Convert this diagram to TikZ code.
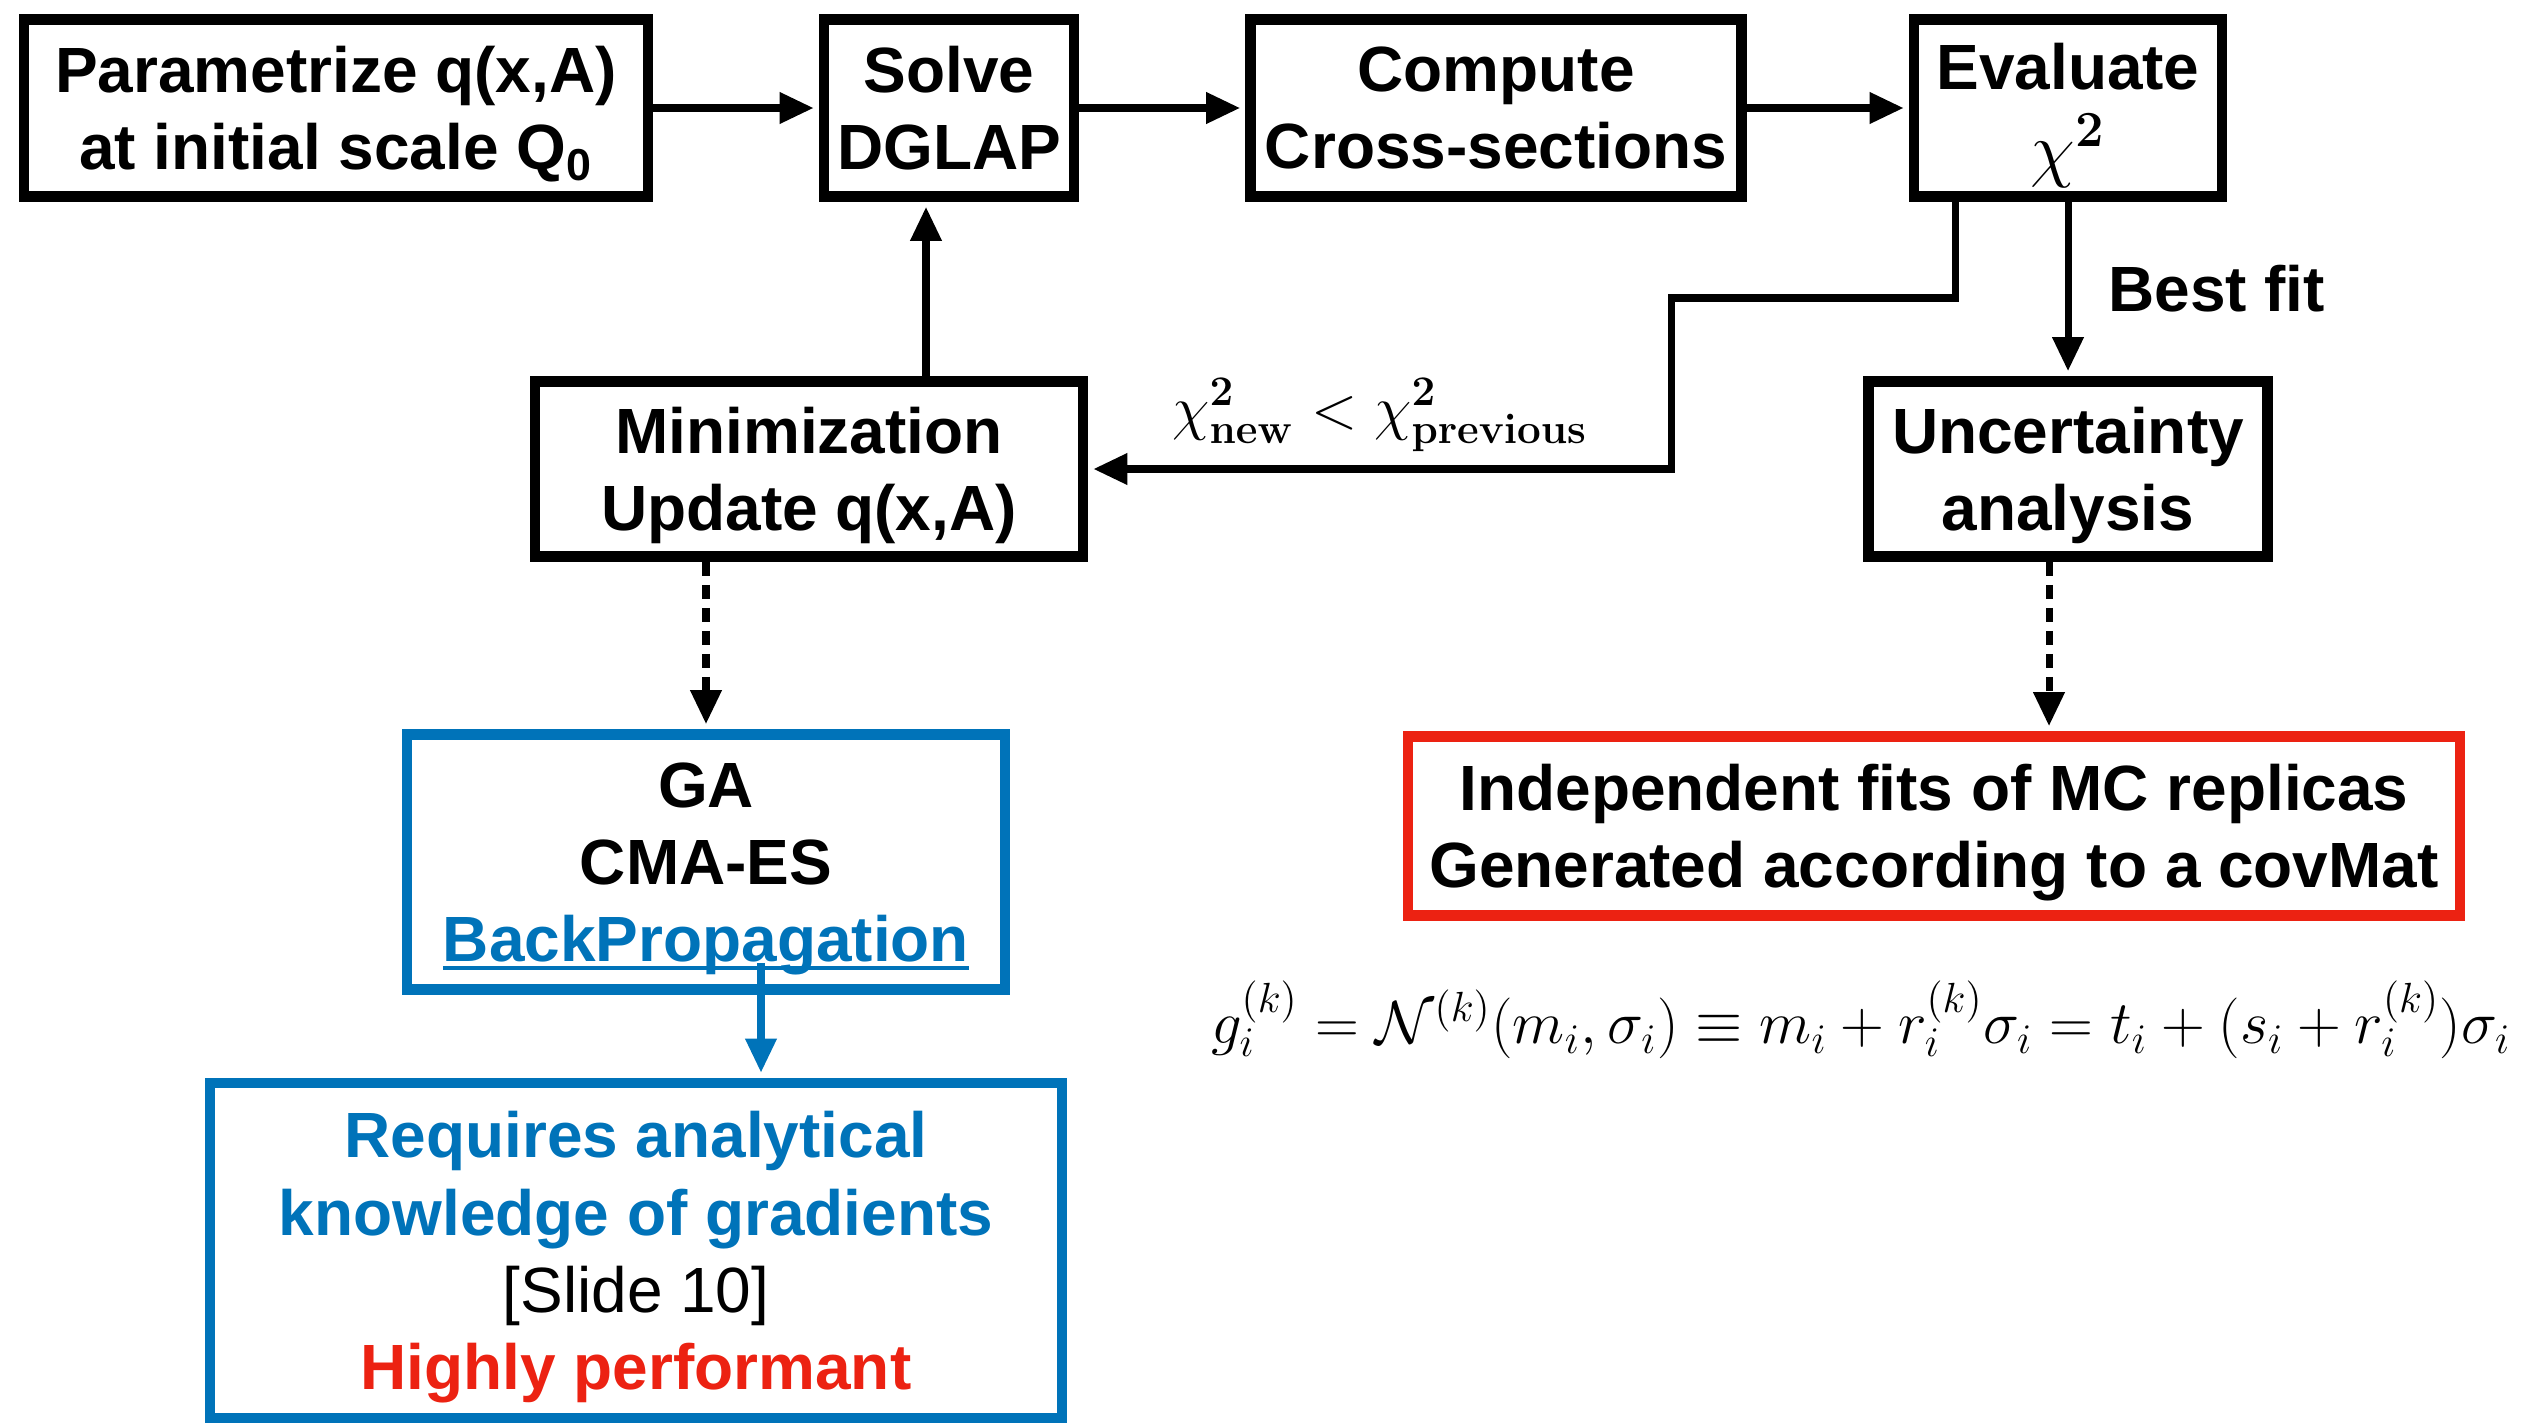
\documentclass[tikz,border=0pt]{standalone}
\usepackage[no-math]{fontspec}
\setmainfont{Liberation Sans}
\usetikzlibrary{arrows.meta,positioning}

\definecolor{fitblue}{RGB}{0,115,185}
\definecolor{fitred}{RGB}{236,34,18}

% underline that runs through the descenders
\newcommand{\linkline}[1]{\setbox0\hbox{#1}\rlap{\rule[-0.13em]{\wd0}{0.06em}}\box0}

\begin{document}
\begin{tikzpicture}[->,>={Triangle[length=0.34cm,width=0.3cm]},line width=2pt,
                    shorten >=1.4pt,node distance=5cm]

  \useasboundingbox (0,0) rectangle (25.34,-14.23);

  \tikzstyle{stage}=[draw,line width=3.1pt,align=center,inner sep=0pt,text depth=0pt,
                     minimum height=1.77cm,font=\bfseries\fontsize{18.2}{22}\selectfont]
  \tikzstyle{method}=[stage,draw=fitblue]
  \tikzstyle{dashedflow}=[dash pattern=on 0.14cm off 0.09cm]

  \node[stage,minimum width=6.24cm] (param) at (3.36,-1.08)
       {Parametrize q(x,A) \\ at initial scale Q\textsubscript{0}};
  \node[stage,minimum width=2.50cm,node distance=6.13cm] (solve) [right of=param]
       {Solve \\ DGLAP};
  \node[stage,minimum width=4.91cm,node distance=5.47cm] (compute) [right of=solve]
       {Compute \\ Cross-sections};
  \node[stage,minimum width=3.08cm,node distance=5.72cm] (eval) [right of=compute]
       {Evaluate \\[2pt] {\fontsize{21.5}{22}\selectfont$\chi^{\mathbf{2}}$}};

  \node[stage,minimum width=5.48cm,minimum height=1.75cm] (minim) at (8.09,-4.69)
       {Minimization \\ Update q(x,A)};
  \node[stage,minimum width=3.99cm,minimum height=1.75cm,node distance=3.61cm] (uncert) [below of=eval]
       {Uncertainty \\ analysis};

  \node[method,minimum width=5.98cm,minimum height=2.55cm] (ga) at (7.06,-8.62)
       {GA \\ CMA-ES \\ \textcolor{fitblue}{\linkline{BackPropagation}}};
  \node[method,minimum width=8.52cm,minimum height=3.35cm] (req) at (6.36,-12.505)
       {\textcolor{fitblue}{Requires analytical} \\
        \textcolor{fitblue}{knowledge of gradients} \\
        {\mdseries [Slide 10]} \\
        \textcolor{fitred}{Highly performant}};
  \node[stage,draw=fitred,minimum width=10.52cm,minimum height=1.79cm] (replicas) at (19.34,-8.26)
       {Independent fits of MC replicas \\ Generated according to a covMat};

  \node (better) at (13.80,-4.15)
       {\fontsize{18}{20}\selectfont $\chi^{\mathbf{2}}_{\mathbf{new}} < \chi^{\mathbf{2}}_{\mathbf{previous}}$};
  \node (replica eq) at (18.61,-10.20)
       {\fontsize{17}{20}\selectfont $g_i^{(k)} = \mathcal{N}^{(k)}(m_i,\sigma_i) \equiv m_i + r_i^{(k)}\sigma_i = t_i + (s_i + r_i^{(k)})\sigma_i$};

  \coordinate (up)   at ([xshift=-0.23cm]solve.south);
  \coordinate (fb)   at ([xshift=-1.13cm]eval.south);
  \coordinate (bend) at (16.71,-2.98);
  \coordinate (dn)   at ([xshift=-0.19cm]uncert.south);
  \coordinate (bp)   at ([xshift=0.55cm,yshift=0.32cm]ga.south);

  \path
  (param)   edge (solve)
  (solve)   edge (compute)
  (compute) edge (eval)
  (eval)    edge node[right=0.25cm,font=\bfseries\fontsize{18.2}{22}\selectfont] {Best fit} (uncert)
  ;

  \draw (up |- minim.north) -- (up);
  \draw (fb) |- (bend) |- (minim.east);

  \draw[dashedflow] (minim.south -| ga.north) -- (ga.north);
  \draw[dashedflow] (dn) -- (dn |- replicas.north);
  \draw[fitblue] (bp) -- (bp |- req.north);
\end{tikzpicture}
\end{document}
